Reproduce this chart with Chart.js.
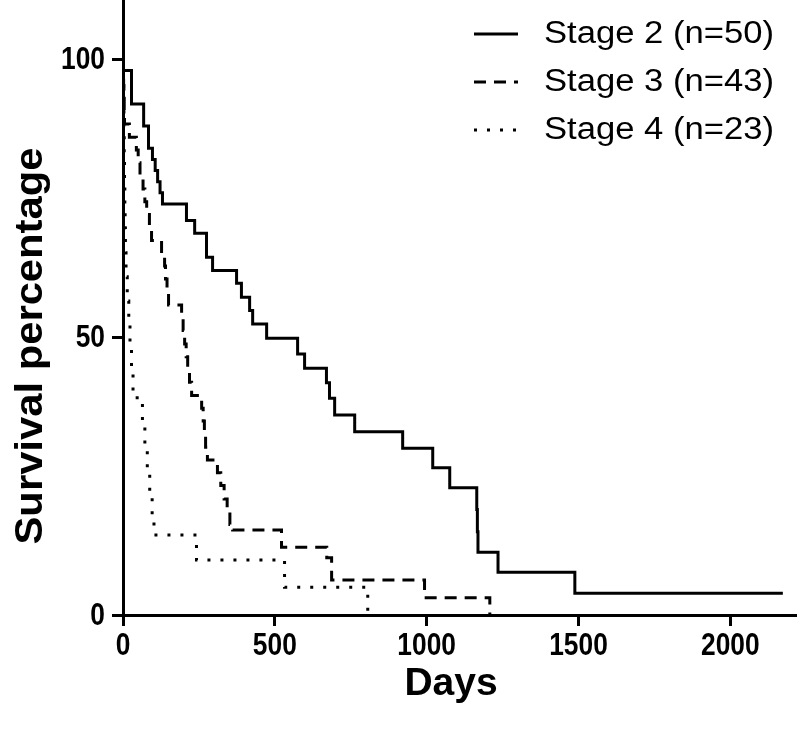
<!DOCTYPE html>
<html>
<head>
<meta charset="utf-8">
<script src="https://cdn.jsdelivr.net/npm/chart.js@4.4.0/dist/chart.umd.min.js"></script>
<style>
  html, body { margin: 0; padding: 0; background: #fff; }
</style>
</head>
<body>
<canvas id="km" width="800" height="729"></canvas>
<script>
// Kaplan-Meier curves (days, survival %)
const seriesNames = ["Stage 2 (n=50)", "Stage 3 (n=43)", "Stage 4 (n=23)"];

const stage2Days = [0, 1, 28, 68, 84, 97, 106, 114, 122, 130, 209, 236, 275, 295, 374, 390, 417, 427, 473, 575, 598, 670, 680, 697, 763, 921, 1020, 1076, 1165, 1167, 1169, 1235, 1488, 2173];
const stage2Surv = [100, 98, 92, 88, 84, 82, 80, 78, 76, 74, 71, 68.7, 64.4, 62, 59.7, 57.2, 54.8, 52.4, 49.8, 47, 44.4, 41.8, 39, 36, 33, 30, 26.5, 22.9, 19, 15, 11.3, 7.7, 3.9, 3.9];

const stage3Days = [0, 1, 2, 3, 4, 5, 21, 44, 50, 56, 66, 72, 78, 87, 94, 127, 137, 140, 145, 150, 193, 198, 203, 208, 213, 219, 226, 259, 264, 268, 272, 278, 311, 322, 333, 343, 352, 361, 522, 671, 687, 993, 1208];
const stage3Surv = [100, 97.7, 95.3, 93, 90.7, 88.4, 86, 83.7, 81.4, 79.1, 76.7, 74.4, 72.1, 69.8, 67.4, 65.1, 62.8, 60.5, 58.1, 55.8, 53.5, 51.2, 48.8, 46.5, 44.2, 41.9, 39.5, 37.2, 34.9, 32.6, 30.2, 27.9, 25.6, 23.3, 20.9, 18.6, 16.3, 15.3, 12.2, 10.3, 6.3, 3.1, 0];

const stage4Days = [0, 1, 2, 3, 4, 5, 6, 7, 8, 10, 14, 19, 23, 28, 33, 64, 72, 80, 88, 96, 102, 242, 532, 806];
const stage4Surv = [100, 95.7, 91.3, 87, 82.6, 78.3, 73.9, 69.6, 65.2, 60.9, 56.5, 52.2, 47.8, 43.5, 39.1, 34.8, 30.4, 26.1, 21.7, 17.4, 14.4, 9.9, 5, 0];

const xTicks = [0, 500, 1000, 1500, 2000];
const yTicks = [0, 50, 100];
const xTitle = "Days";
const yTitle = "Survival percentage";

function toPoints(days, surv) {
  return days.map((d, i) => ({ x: d, y: surv[i] }));
}

// draw text squeezed or stretched sideways, like the (resized) original
function drawScaled(ctx, text, x, y, sx) {
  ctx.save();
  ctx.translate(x, y);
  ctx.scale(sx, 1);
  ctx.fillText(text, 0, 0);
  ctx.restore();
}

// tick labels, legend and axis titles drawn by hand so they sit where the original has them
const kmText = {
  id: "kmText",
  afterDraw(chart) {
    const ctx = chart.ctx;
    const xs = chart.scales.x;
    const ys = chart.scales.y;
    ctx.save();
    ctx.fillStyle = "#000";

    ctx.font = "bold 31px 'Liberation Sans', Arial, sans-serif";
    ctx.textBaseline = "middle";
    ctx.textAlign = "right";
    yTicks.forEach((v) => drawScaled(ctx, String(v), 105, ys.getPixelForValue(v) + 1, 0.85));
    ctx.textAlign = "center";
    ctx.textBaseline = "alphabetic";
    xTicks.forEach((v) => drawScaled(ctx, String(v), xs.getPixelForValue(v), 655, 0.85));

    ctx.textAlign = "left";
    ctx.textBaseline = "middle";
    chart.data.datasets.forEach((ds, i) => {
      const y = 34 + i * 48;
      ctx.strokeStyle = ds.borderColor;
      ctx.lineWidth = ds.borderWidth;
      ctx.setLineDash(ds.borderDash || []);
      ctx.beginPath();
      ctx.moveTo(474, y);
      ctx.lineTo(518, y);
      ctx.stroke();
      ctx.setLineDash([]);
      ctx.font = "31px 'Liberation Sans', Arial, sans-serif";
      const w = ctx.measureText(ds.label).width;
      drawScaled(ctx, ds.label, 544, y, 230 / w);
    });

    ctx.font = "bold 39px 'Liberation Sans', Arial, sans-serif";
    ctx.textAlign = "center";
    ctx.textBaseline = "alphabetic";
    ctx.fillText(xTitle, 451, 695);

    ctx.save();
    ctx.translate(42, 346);
    ctx.rotate(-Math.PI / 2);
    const tw = ctx.measureText(yTitle).width;
    ctx.scale(397 / tw, 1);
    ctx.fillText(yTitle, 0, 0);
    ctx.restore();
    ctx.restore();
  }
};

const axisGrid = { drawOnChartArea: false, drawTicks: true, tickLength: 11, lineWidth: 3, color: "#000" };
const axisBorder = { display: true, width: 3, color: "#000" };

new Chart(document.getElementById("km"), {
  type: "line",
  data: {
    datasets: [
      { label: seriesNames[0], data: toPoints(stage2Days, stage2Surv), borderColor: "#000", borderWidth: 3, stepped: "before", pointRadius: 0, fill: false },
      { label: seriesNames[1], data: toPoints(stage3Days, stage3Surv), borderColor: "#000", borderWidth: 3, borderDash: [12, 8], stepped: "before", pointRadius: 0, fill: false },
      { label: seriesNames[2], data: toPoints(stage4Days, stage4Surv), borderColor: "#000", borderWidth: 3, borderDash: [3, 10], stepped: "before", pointRadius: 0, fill: false }
    ]
  },
  options: {
    responsive: false,
    animation: false,
    devicePixelRatio: 1,
    layout: { autoPadding: false, padding: { left: 0, right: 5, top: 0, bottom: 0 } },
    plugins: { legend: { display: false }, tooltip: { enabled: false } },
    scales: {
      x: {
        type: "linear",
        min: 0,
        max: 2213,
        afterBuildTicks: (s) => { s.ticks = xTicks.map((v) => ({ value: v })); },
        afterFit: (s) => { s.height = 114; s.paddingLeft = 0; s.paddingRight = 0; },
        ticks: { color: "rgba(0,0,0,0)", padding: 3, maxRotation: 0 },
        grid: axisGrid,
        border: axisBorder
      },
      y: {
        min: 0,
        max: 110.7,
        afterBuildTicks: (s) => { s.ticks = yTicks.map((v) => ({ value: v })); },
        afterFit: (s) => { s.width = 123; s.paddingTop = 0; s.paddingBottom = 0; },
        ticks: { color: "rgba(0,0,0,0)", padding: 6 },
        grid: axisGrid,
        border: axisBorder
      }
    }
  },
  plugins: [kmText]
});
</script>
</body>
</html>
